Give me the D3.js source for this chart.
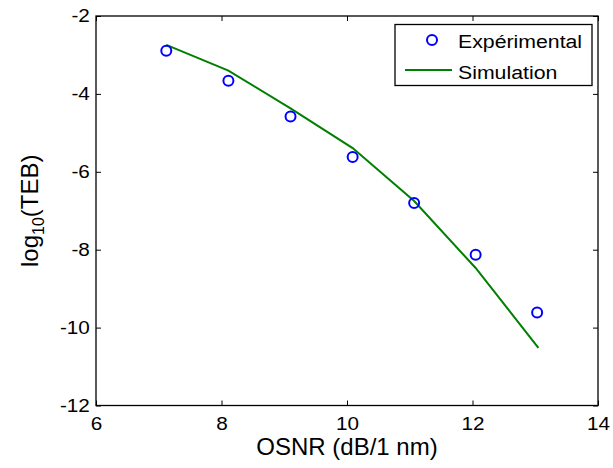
<!DOCTYPE html>
<html>
<head>
<meta charset="utf-8">
<script src="https://cdn.jsdelivr.net/npm/d3@7"></script>
<style>
  html, body { margin: 0; padding: 0; background: #fff; }
  svg { display: block; font-family: "Liberation Sans", Arial, sans-serif; }
</style>
</head>
<body>
<svg id="chart" width="613" height="468"></svg>
<script>
// ---- data ----
const expX = [7.12, 8.11, 9.10, 10.09, 11.07, 12.05, 13.03];
const expY = [-2.89, -3.66, -4.58, -5.62, -6.80, -8.13, -9.61];
const simX = [7.12, 8.11, 9.10, 10.09, 11.07, 12.05, 13.05];
const simY = [-2.74, -3.40, -4.37, -5.39, -6.75, -8.47, -10.52];
const xTicks = [6, 8, 10, 12, 14];
const yTicks = [-12, -10, -8, -6, -4, -2];
const seriesNames = ["Expérimental", "Simulation"];
const xLabel = "OSNR (dB/1 nm)";

// ---- layout ----
const L = 96, R = 598, T = 16, B = 405.5;
const SX = 1.12; // horizontal stretch of the small texts
const svg = d3.select("#chart");
const x = d3.scaleLinear().domain([6, 14]).range([L, R]);
const y = d3.scaleLinear().domain([-12, -2]).range([B, T]);

// frame
svg.append("rect").attr("x", L).attr("y", T).attr("width", R - L).attr("height", B - T)
  .attr("fill", "none").attr("stroke", "#000").attr("stroke-width", 1.3);

// axes with inward ticks
const tickFont = "18.5px";
const gx = svg.append("g").attr("transform", `translate(0,${B})`)
  .call(d3.axisBottom(x).tickValues(xTicks).tickSize(-5).tickPadding(11).tickFormat(d3.format("d")));
const gxt = svg.append("g").attr("transform", `translate(0,${T})`)
  .call(d3.axisTop(x).tickValues(xTicks).tickSize(-5).tickFormat(""));
const gy = svg.append("g").attr("transform", `translate(${L},0)`)
  .call(d3.axisLeft(y).tickValues(yTicks).tickSize(-5).tickPadding(5.5).tickFormat(d3.format("d")));
const gyr = svg.append("g").attr("transform", `translate(${R},0)`)
  .call(d3.axisRight(y).tickValues(yTicks).tickSize(-5).tickFormat(""));
[gx, gxt, gy, gyr].forEach(g => {
  g.select(".domain").remove();
  g.selectAll(".tick line").attr("stroke", "#000").attr("stroke-width", 1);
  g.selectAll("text").attr("fill", "#000").style("font-size", tickFont)
    .style("font-family", "'Liberation Sans', Arial, sans-serif")
    .attr("transform", `scale(${SX},1)`);
});
gy.selectAll(".tick text").text(d => d < 0 ? "-" + Math.abs(d) : d);

// axis labels
svg.append("text").attr("x", (L + R) / 2).attr("y", 455).attr("text-anchor", "middle")
  .style("font-size", "24px").attr("fill", "#000").text(xLabel);
const yl = svg.append("text").attr("transform", `translate(38,${(T + B) / 2}) rotate(-90)`)
  .attr("text-anchor", "middle").style("font-size", "24px").attr("fill", "#000");
yl.append("tspan").text("log");
yl.append("tspan").attr("dy", 6).style("font-size", "16px").text("10");
yl.append("tspan").attr("dy", -6).text("(TEB)");

// simulation line
const line = d3.line().x(d => x(d[0])).y(d => y(d[1]));
svg.append("path").datum(simX.map((v, i) => [v, simY[i]]))
  .attr("d", line).attr("fill", "none").attr("stroke", "#008000").attr("stroke-width", 2);

// experimental markers
svg.append("g").selectAll("circle").data(expX.map((v, i) => [v, expY[i]])).join("circle")
  .attr("cx", d => x(d[0])).attr("cy", d => y(d[1])).attr("r", 5)
  .attr("fill", "none").attr("stroke", "#0000ff").attr("stroke-width", 2);

// legend
const lg = svg.append("g");
lg.append("rect").attr("x", 395).attr("y", 24.5).attr("width", 197).attr("height", 61)
  .attr("fill", "#fff").attr("stroke", "#000").attr("stroke-width", 1.3);
lg.append("circle").attr("cx", 432).attr("cy", 40).attr("r", 5)
  .attr("fill", "none").attr("stroke", "#0000ff").attr("stroke-width", 2);
lg.append("line").attr("x1", 405).attr("x2", 452).attr("y1", 70).attr("y2", 70)
  .attr("stroke", "#008000").attr("stroke-width", 2);
lg.selectAll("text.leg").data(seriesNames).join("text").attr("class", "leg")
  .attr("transform", (d, i) => `translate(458,${i === 0 ? 47.5 : 78.5}) scale(${SX},1)`)
  .style("font-size", "19px").attr("fill", "#000").text(d => d);
</script>
</body>
</html>
